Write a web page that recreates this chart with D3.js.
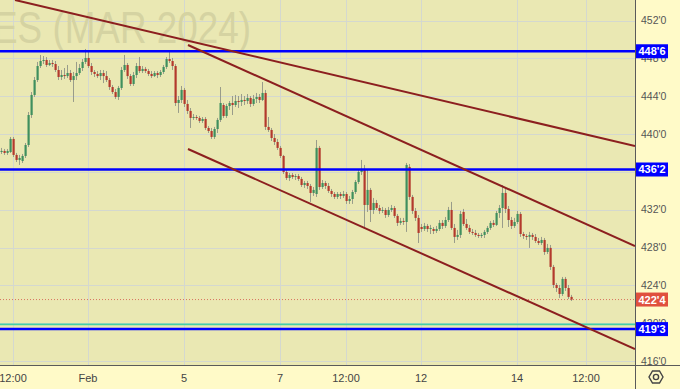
<!DOCTYPE html>
<html><head><meta charset="utf-8">
<script src="https://cdn.jsdelivr.net/npm/d3@7"></script>
<style>html,body{margin:0;padding:0;background:#fffac8;}svg{display:block;}</style>
</head><body>
<svg id="c" width="680" height="389"></svg>
<script>
// ---- data ----
const open = [438.10,438.21,438.00,438.10,439.48,437.79,437.26,437.15,437.68,438.84,442.01,444.13,445.71,447.19,447.72,447.83,447.30,447.51,447.40,446.77,446.03,446.24,446.13,446.45,445.71,446.13,446.45,446.98,447.62,448.04,447.19,446.56,446.35,446.13,446.45,446.13,445.71,444.97,444.44,443.92,444.87,446.77,447.30,446.13,445.29,446.24,447.19,446.66,446.88,446.66,446.35,446.13,446.45,446.24,446.56,447.09,447.93,447.72,447.19,443.28,443.60,444.66,443.18,442.44,441.70,441.80,441.70,441.38,441.59,440.64,440.32,439.69,440.53,441.49,443.07,441.91,442.96,443.28,443.07,443.49,443.39,443.60,443.49,443.81,443.18,443.71,443.92,443.60,444.34,440.75,440.43,439.58,439.16,438.53,437.68,435.99,435.35,435.67,435.46,435.56,435.25,434.61,434.82,434.51,433.77,433.66,438.53,434.40,434.82,434.51,433.98,433.66,433.35,433.66,433.45,433.66,432.92,433.13,433.87,434.93,435.99,436.31,432.50,434.09,431.97,432.71,432.18,431.87,431.97,431.44,431.97,432.18,431.34,430.60,430.81,430.70,436.52,433.35,431.87,431.13,430.17,429.96,430.28,429.96,429.96,429.75,429.96,430.60,430.28,430.91,431.97,430.07,429.12,429.33,431.76,430.49,430.07,429.65,429.54,429.33,429.22,429.33,429.65,430.07,430.60,430.39,431.65,432.18,433.77,432.08,430.91,430.28,430.70,431.55,429.43,429.22,429.12,429.33,429.12,428.69,428.48,428.80,427.53,427.96,425.95,424.04,423.72,423.09,424.68,423.72,422.78];
const high = [438.53,438.42,438.42,439.69,439.69,438.00,437.79,437.89,439.05,442.33,444.44,446.03,447.62,448.36,448.25,448.14,447.83,447.83,447.72,447.19,446.77,446.98,447.30,446.77,446.56,447.62,447.40,447.93,448.99,448.67,447.51,446.77,446.66,446.77,446.77,446.66,445.92,445.18,444.76,445.08,447.09,448.36,447.51,446.35,446.56,447.51,448.14,447.19,447.09,446.88,446.66,446.66,446.66,446.77,447.30,448.14,448.78,448.04,447.40,444.02,445.08,444.87,443.60,442.75,442.12,442.01,441.91,441.80,441.80,440.85,440.64,440.75,441.70,444.97,443.28,443.18,443.49,444.02,444.13,444.02,444.23,444.02,444.23,444.02,444.13,444.34,444.23,445.50,444.66,441.80,440.64,440.00,439.48,438.74,437.79,436.20,435.88,435.88,435.78,435.78,435.46,435.04,435.04,434.72,434.40,439.37,438.74,435.14,435.04,434.82,434.19,433.87,433.87,433.87,433.98,433.87,433.45,434.09,435.14,436.20,437.26,436.73,436.20,434.30,433.24,433.03,432.50,432.29,432.18,432.29,432.50,432.39,431.55,431.13,431.13,436.94,436.83,433.56,432.18,431.44,430.49,430.60,430.49,430.39,430.17,430.28,430.91,430.91,431.23,432.29,432.82,430.49,429.86,431.87,432.08,431.02,430.39,429.96,429.86,429.54,429.54,429.86,430.28,430.81,430.91,431.87,432.50,434.61,434.40,432.39,431.23,431.13,431.87,431.76,429.65,429.43,429.65,429.54,429.43,429.01,429.12,429.01,428.38,428.27,426.16,424.25,424.04,424.89,424.89,424.04,422.99];
const low = [437.89,437.79,437.79,438.00,437.57,437.04,436.73,436.94,437.47,438.63,441.70,443.92,445.50,446.98,447.40,447.09,447.19,447.09,446.56,445.71,445.71,445.82,445.92,445.50,443.39,445.71,446.24,446.66,447.40,446.98,446.24,446.03,445.92,445.71,445.39,445.50,444.66,444.23,443.71,443.60,444.66,446.56,445.82,445.08,445.08,445.92,446.45,446.45,446.45,446.13,445.92,446.03,445.92,446.03,446.35,446.88,447.51,446.77,442.96,442.23,443.28,442.86,442.12,440.64,441.49,441.49,441.17,441.17,440.43,440.11,439.48,439.48,440.11,441.27,441.70,441.70,442.54,442.01,442.86,442.75,442.96,443.07,443.18,442.86,442.96,443.28,443.28,443.49,440.43,440.22,439.26,438.84,438.31,437.47,435.78,435.14,435.04,435.25,435.14,435.04,434.40,434.30,434.19,432.82,433.45,433.35,434.09,434.19,434.19,433.77,433.35,433.13,433.13,433.13,433.24,432.61,432.61,432.61,433.66,434.72,435.67,430.17,431.76,430.70,431.55,431.97,431.55,431.65,431.13,431.23,431.76,431.13,430.28,430.39,430.39,429.65,433.03,431.55,430.81,428.48,429.65,429.75,429.65,429.43,429.43,429.54,429.75,429.96,430.07,430.70,429.86,428.48,428.80,429.01,430.28,429.86,429.43,429.33,429.12,429.01,429.01,429.01,429.43,429.86,430.17,430.28,431.13,430.07,431.65,430.17,429.96,430.07,430.49,429.12,428.91,428.80,427.96,428.80,428.48,428.27,428.27,427.22,427.32,425.63,423.72,423.30,422.67,422.88,423.41,422.56,422.35];
const close = [438.21,438.00,438.21,439.48,437.79,437.26,437.47,437.68,438.84,442.01,444.13,445.71,447.19,447.72,447.83,447.30,447.51,447.40,446.77,446.03,446.24,446.13,446.45,445.71,446.13,446.45,446.98,447.62,448.04,447.19,446.56,446.35,446.13,446.45,446.13,445.71,444.97,444.44,443.92,444.87,446.77,447.30,446.13,445.29,446.24,447.19,446.66,446.88,446.66,446.35,446.13,446.45,446.24,446.56,447.09,447.93,447.72,447.19,443.28,443.60,444.66,443.18,442.44,441.70,441.80,441.70,441.38,441.59,440.64,440.32,439.69,440.53,441.49,443.28,441.91,442.96,443.28,443.07,443.49,443.39,443.60,443.49,443.81,443.18,443.71,443.92,443.60,444.34,440.75,440.43,439.58,439.16,438.53,437.68,435.99,435.35,435.67,435.46,435.56,435.25,434.61,434.82,434.51,433.77,434.09,438.53,434.40,434.82,434.51,433.98,433.66,433.35,433.66,433.45,433.66,432.92,433.13,433.87,434.93,435.99,436.31,432.50,434.09,431.97,432.71,432.18,431.87,431.97,431.44,431.97,432.18,431.34,430.60,430.81,430.70,436.73,433.35,431.87,431.13,429.54,429.96,430.28,429.96,430.07,429.75,429.96,430.60,430.28,430.91,431.97,430.07,429.12,429.33,431.55,430.49,430.07,429.65,429.54,429.33,429.22,429.33,429.65,430.07,430.60,430.39,431.65,432.18,433.77,432.08,430.91,430.28,430.70,431.55,429.43,429.22,429.12,429.33,429.12,428.69,428.48,428.80,427.53,427.96,425.95,424.04,423.72,423.09,424.68,423.72,422.78,422.50];

const xTicks = [4, 29, 61, 93, 115, 140, 172, 195];
const xTickLabels = ["12:00", "Feb", "5", "7", "12:00", "12", "14", "12:00"];
const yTicks = [416, 420, 424, 428, 432, 436, 440, 444, 448, 452];

const blueLevels = [448.75, 436.25, 419.375];
const tealLevel = 419.875;
const lastPrice = 422.5;

// trend lines: [startIndex, startPrice, endIndex, endPrice]
const trendA = [4.67, 454.17, 211.33, 438.73];
const trendB = [62.33, 449.41, 211.33, 428.16];
const trendC = [62.33, 438.42, 211.33, 417.27];

const watermark = "ES (MAR 2024)";

// ---- layout ----
const W = 680, H = 389, plotW = 635, plotH = 365;
const svg = d3.select("#c");
const x = d3.scaleLinear().domain([-0.33, 211.33]).range([0, plotW]);
const y = d3.scaleLinear().domain([415.58, 454.17]).range([plotH, 0]);
const fmt = v => { const f = Math.floor(v + 1e-9); return f + "'" + Math.round((v - f) * 8); };

svg.append("rect").attr("width", W).attr("height", H).attr("fill", "#fffac8");
svg.append("rect").attr("width", plotW).attr("height", plotH).attr("fill", "#eae8b3");

svg.append("defs").append("clipPath").attr("id", "clip")
  .append("rect").attr("width", plotW).attr("height", plotH);

const plot = svg.append("g").attr("clip-path", "url(#clip)");

// grid
plot.selectAll(".hg").data(yTicks).enter().append("line")
  .attr("x1", 0).attr("x2", plotW)
  .attr("y1", d => Math.round(y(d)) + 0.5).attr("y2", d => Math.round(y(d)) + 0.5)
  .attr("stroke", "#d4d8cf").attr("stroke-width", 1);
plot.selectAll(".vg").data(xTicks).enter().append("line")
  .attr("y1", 0).attr("y2", plotH)
  .attr("x1", d => Math.round(x(d)) + 0.5).attr("x2", d => Math.round(x(d)) + 0.5)
  .attr("stroke", "#d4d8cf").attr("stroke-width", 1);

// watermark
plot.append("text").text(watermark)
  .attr("x", -7).attr("y", 43)
  .attr("font-family", "'Liberation Sans Narrow', 'Liberation Sans', Arial, sans-serif")
  .attr("font-size", 45).attr("fill", "#d5d3a2")
  .attr("textLength", 258).attr("lengthAdjust", "spacingAndGlyphs");

// candles
const idx = d3.range(close.length);
const up = "#3f8f5e", down = "#b3392d";
plot.selectAll(".wick").data(idx).enter().append("line")
  .attr("x1", i => Math.round(x(i)) + 0.5).attr("x2", i => Math.round(x(i)) + 0.5)
  .attr("y1", i => y(high[i])).attr("y2", i => y(low[i]))
  .attr("stroke", "#999c8a").attr("stroke-width", 1);
plot.selectAll(".body").data(idx).enter().append("rect")
  .attr("x", i => Math.round(x(i)) - 0.5)
  .attr("width", 2.2)
  .attr("y", i => y(Math.max(open[i], close[i])))
  .attr("height", i => Math.max(1, Math.abs(y(open[i]) - y(close[i]))))
  .attr("fill", i => close[i] >= open[i] ? up : down);

// last price dotted line
plot.append("line").attr("x1", 0).attr("x2", plotW)
  .attr("y1", y(lastPrice)).attr("y2", y(lastPrice))
  .attr("stroke", "#d9745f").attr("stroke-width", 1).attr("stroke-dasharray", "1,2");

// teal level
plot.append("line").attr("x1", 0).attr("x2", plotW)
  .attr("y1", y(tealLevel)).attr("y2", y(tealLevel))
  .attr("stroke", "#44cfa6").attr("stroke-width", 1.6);

// blue levels
plot.selectAll(".lvl").data(blueLevels).enter().append("line")
  .attr("x1", 0).attr("x2", plotW)
  .attr("y1", d => y(d)).attr("y2", d => y(d))
  .attr("stroke", "#0000ff").attr("stroke-width", 2.5);

// trend lines
plot.selectAll(".tr").data([trendA, trendB, trendC]).enter().append("line")
  .attr("x1", d => x(d[0])).attr("y1", d => y(d[1]))
  .attr("x2", d => x(d[2])).attr("y2", d => y(d[3]))
  .attr("stroke", "#8c1f1f").attr("stroke-width", 2);

// axes borders
svg.append("line").attr("x1", plotW + 0.5).attr("x2", plotW + 0.5).attr("y1", 0).attr("y2", H)
  .attr("stroke", "#5a5a5a").attr("stroke-width", 1);
svg.append("line").attr("x1", 0).attr("x2", W).attr("y1", plotH + 0.5).attr("y2", plotH + 0.5)
  .attr("stroke", "#5a5a5a").attr("stroke-width", 1);

// y tick labels (those fully hidden under a price label are not drawn)
const allLabelVals = blueLevels.concat([lastPrice]);
const visibleYTicks = yTicks.filter(t => allLabelVals.every(v => Math.abs(v - t) > 0.3));
svg.selectAll(".yl").data(visibleYTicks).enter().append("text")
  .attr("x", 641).attr("y", d => y(d)).attr("dy", "0.35em")
  .attr("font-family", "'Liberation Sans', Arial, sans-serif").attr("font-size", 10.5)
  .attr("fill", "#555").text(fmt);

// x tick labels
svg.selectAll(".xl").data(xTicks).enter().append("text")
  .attr("x", d => x(d)).attr("y", 378).attr("dy", "0.35em").attr("text-anchor", "middle")
  .attr("font-family", "'Liberation Sans', Arial, sans-serif").attr("font-size", 11)
  .attr("fill", "#444").text((d, i) => xTickLabels[i]);

// price labels
const labels = blueLevels.map(v => ({v, c: "#0000ff"})).concat([{v: lastPrice, c: "#e0503e"}]);
const lg = svg.selectAll(".pl").data(labels).enter().append("g");
lg.append("rect").attr("x", 636).attr("width", 32).attr("y", d => y(d.v) - 7).attr("height", 14)
  .attr("fill", d => d.c);
lg.append("text").attr("x", 652).attr("y", d => y(d.v)).attr("dy", "0.36em").attr("text-anchor", "middle")
  .attr("font-family", "'Liberation Sans', Arial, sans-serif").attr("font-size", 11).attr("font-weight", "bold")
  .attr("fill", "#fff").text(d => fmt(d.v));

// settings icon
const gx = 656, gy = 377;
const hex = d3.range(6).map(k => [gx + 7 * Math.cos(Math.PI / 3 * k), gy + 7 * Math.sin(Math.PI / 3 * k)]);
svg.append("path").attr("d", d3.line()(hex) + "Z").attr("fill", "none").attr("stroke", "#444").attr("stroke-width", 1.4);
svg.append("circle").attr("cx", gx).attr("cy", gy).attr("r", 2.6).attr("fill", "none").attr("stroke", "#444").attr("stroke-width", 1.4);
</script>
</body></html>
